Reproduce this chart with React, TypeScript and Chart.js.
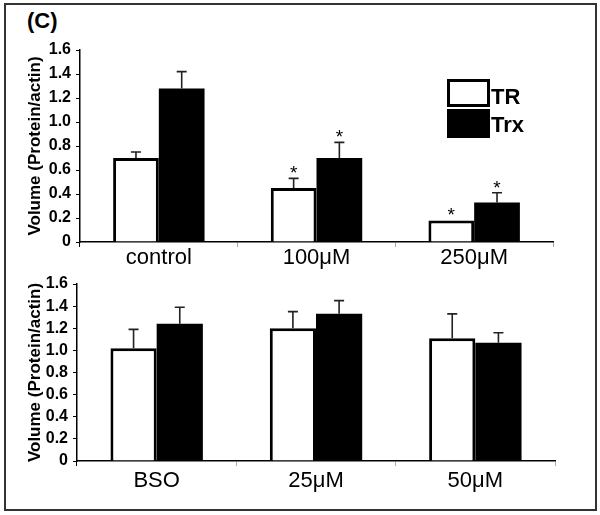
import React, { useEffect, useRef } from "react";
import { Chart, registerables } from "chart.js";
Chart.register(...registerables);

const FONT = 'Arial, "Liberation Sans", sans-serif';

// Top panel
const topCategories = ["control", "100\u03bcM", "250\u03bcM"];
const topTR = [0.70, 0.45, 0.18];
const topTRErr: (number | null)[] = [0.75, 0.53, null];
const topTrx = [1.28, 0.70, 0.33];
const topTrxErr: (number | null)[] = [1.42, 0.83, 0.41];
const topTRStar = [false, true, true];
const topTrxStar = [false, true, true];

// Bottom panel
const bottomCategories = ["BSO", "25\u03bcM", "50\u03bcM"];
const bottomTR = [1.02, 1.20, 1.11];
const bottomTRErr: (number | null)[] = [1.19, 1.35, 1.33];
const bottomTrx = [1.24, 1.33, 1.07];
const bottomTrxErr: (number | null)[] = [1.39, 1.45, 1.16];
const bottomTRStar = [false, false, false];
const bottomTrxStar = [false, false, false];

const yMin = 0;
const yMax = 1.6;
const yStep = 0.2;
const yTitle = "Volume (Protein/actin)";
const seriesNames = ["TR", "Trx"];

function makeErrorPlugin(errs: (number | null)[][], stars: boolean[][]) {
  return {
    id: "errorBars",
    afterDatasetsDraw(chart: any) {
      const ctx = chart.ctx;
      const ys = chart.scales.y;
      errs.forEach((arr, di) => {
        const meta = chart.getDatasetMeta(di);
        meta.data.forEach((bar: any, i: number) => {
          const e = arr[i];
          let topPix = bar.y;
          if (e != null) {
            const ey = ys.getPixelForValue(e);
            ctx.save();
            ctx.strokeStyle = "#222";
            ctx.lineWidth = 1.6;
            ctx.beginPath();
            ctx.moveTo(bar.x, bar.y);
            ctx.lineTo(bar.x, ey);
            ctx.moveTo(bar.x - 5, ey);
            ctx.lineTo(bar.x + 5, ey);
            ctx.stroke();
            ctx.restore();
            topPix = ey;
          }
          if (stars[di][i]) {
            ctx.save();
            ctx.fillStyle = "#000";
            ctx.font = `19px ${FONT}`;
            ctx.textAlign = "center";
            ctx.textBaseline = "alphabetic";
            ctx.fillText("*", bar.x, topPix + 1);
            ctx.restore();
          }
        });
      });
    },
  };
}

type PanelProps = {
  top: number;
  height: number;
  categories: string[];
  tr: number[];
  trErr: (number | null)[];
  trx: number[];
  trxErr: (number | null)[];
  trStar: boolean[];
  trxStar: boolean[];
  axisLeft: number;
  axisRight: number;
  areaTop: number;
  areaBottom: number;
  labelPad: number;
};

function BarPanel(p: PanelProps) {
  const ref = useRef<HTMLCanvasElement>(null);
  useEffect(() => {
    if (!ref.current) return;
    const chart = new Chart(ref.current, {
      type: "bar",
      data: {
        labels: p.categories,
        datasets: [
          {
            label: seriesNames[0],
            data: p.tr,
            backgroundColor: "#fff",
            borderColor: "#000",
            borderWidth: 3,
            categoryPercentage: 0.58,
            barPercentage: 1,
          },
          {
            label: seriesNames[1],
            data: p.trx,
            backgroundColor: "#000",
            borderColor: "#000",
            borderWidth: 0,
            categoryPercentage: 0.58,
            barPercentage: 1,
          },
        ],
      },
      options: {
        responsive: false,
        animation: false,
        layout: {
          padding: { top: p.areaTop - p.top, right: 600 - p.axisRight, left: 0, bottom: 0 },
        },
        plugins: { legend: { display: false }, tooltip: { enabled: false } },
        scales: {
          x: {
            type: "category",
            offset: true,
            grid: {
              offset: true,
              drawOnChartArea: false,
              tickLength: 5,
              color: (c: any) => (c.index === 0 ? "#000" : "#aaa"),
              lineWidth: 1,
            },
            border: { color: "#000", width: 1.5 },
            ticks: {
              color: "#000",
              font: { family: FONT, size: 22, lineHeight: 1 },
              padding: p.labelPad,
              autoSkip: false,
              maxRotation: 0,
            },
            afterFit: (s: any) => {
              s.height = p.top + p.height - p.areaBottom;
            },
          },
          y: {
            min: yMin,
            max: yMax,
            ticks: {
              stepSize: yStep,
              autoSkip: false,
              color: "#000",
              font: { family: FONT, size: 16, weight: "bold" },
              padding: 5,
              callback: (v: any) => (Number(v) === 0 ? "0" : Number(v).toFixed(1)),
            },
            grid: { drawOnChartArea: false, tickLength: 4, color: "#000" },
            border: { color: "#000", width: 1.5 },
            title: {
              display: true,
              text: yTitle,
              color: "#000",
              font: { family: FONT, size: 17, weight: "bold" },
              padding: { top: 25, bottom: 0 },
            },
            afterFit: (s: any) => {
              s.width = p.axisLeft;
            },
          },
        },
      } as any,
      plugins: [makeErrorPlugin([p.trErr, p.trxErr], [p.trStar, p.trxStar])],
    });
    return () => chart.destroy();
  }, []);
  return (
    <canvas
      ref={ref}
      width={600}
      height={p.height}
      style={{ position: "absolute", left: 0, top: p.top, width: 600, height: p.height }}
    />
  );
}

export default function App() {
  return (
    <div style={{ position: "absolute", left: 0, top: 0, width: 600, height: 515, background: "#fff", fontFamily: FONT }}>
      <div
        style={{
          position: "absolute",
          left: 4,
          top: 3,
          width: 593,
          height: 508,
          border: "2px solid #333",
          boxSizing: "border-box",
        }}
      />
      <div style={{ position: "absolute", left: 27, top: 10, fontSize: 22, fontWeight: "bold", lineHeight: 1 }}>(C)</div>
      <BarPanel
        top={0}
        height={270}
        categories={topCategories}
        tr={topTR}
        trErr={topTRErr}
        trx={topTrx}
        trxErr={topTrxErr}
        trStar={topTRStar}
        trxStar={topTrxStar}
        axisLeft={80}
        axisRight={553}
        areaTop={50}
        areaBottom={242}
        labelPad={0}
      />
      <BarPanel
        top={265}
        height={250}
        categories={bottomCategories}
        tr={bottomTR}
        trErr={bottomTRErr}
        trx={bottomTrx}
        trxErr={bottomTrxErr}
        trStar={bottomTRStar}
        trxStar={bottomTrxStar}
        axisLeft={77}
        axisRight={555}
        areaTop={284}
        areaBottom={461}
        labelPad={4}
      />
      <div
        style={{
          position: "absolute",
          left: 447,
          top: 79,
          width: 43,
          height: 28,
          border: "3px solid #000",
          boxSizing: "border-box",
          background: "#fff",
        }}
      />
      <div style={{ position: "absolute", left: 447, top: 109, width: 43, height: 29, background: "#000" }} />
      <div style={{ position: "absolute", left: 491, top: 86, fontSize: 22, fontWeight: "bold", lineHeight: 1 }}>
        {seriesNames[0]}
      </div>
      <div style={{ position: "absolute", left: 491, top: 114, fontSize: 22, fontWeight: "bold", lineHeight: 1 }}>
        {seriesNames[1]}
      </div>
    </div>
  );
}
